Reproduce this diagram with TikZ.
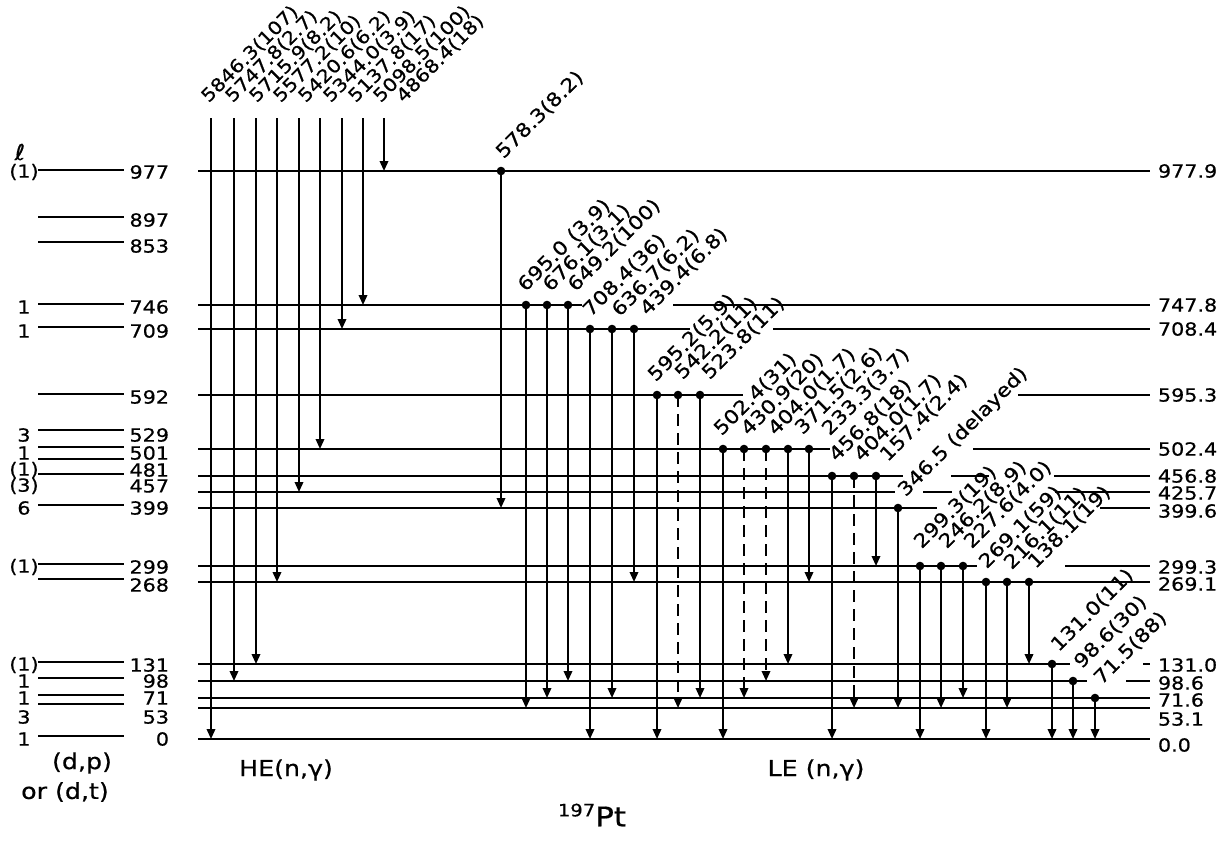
\documentclass[tikz,border=0pt]{standalone}
\usepackage{fontspec}
\setmainfont{DejaVu Sans}[FakeStretch=1.15, FakeBold=0.6]
\usetikzlibrary{arrows.meta}

\begin{document}
\begin{tikzpicture}[x=1pt, y=-1pt, line width=1.9pt,
  gam/.style={-{Triangle[width=8.5pt,length=10pt]}},
  weak/.style={gam, dash pattern=on 12pt off 7pt},
  lbl/.style={rotate=45, anchor=base west, inner sep=0pt, font=\fontsize{19}{23}\selectfont},
  helbl/.style={lbl, font=\fontsize{18}{22}\selectfont},
  txt/.style={inner sep=0pt, font=\fontsize{18}{22}\selectfont},
  captxt/.style={inner sep=0pt, font=\fontsize{22}{26}\selectfont}]
  \path[use as bounding box] (0,0) rectangle (1222,844);

  % ── (d,p) / (d,t) column: lines, energies, l values ──
  \foreach \yy in {170,217,242,304,327,394,430,447,459,474,505,564,579,662,678,695,704,736}
    \draw (38,\yy) -- (124,\yy);
  \foreach \ee/\yy/\ll in {977/172/(1), 897/220/, 853/246/, 746/307/1, 709/331/1, 592/397/,
      529/435/3, 501/453/1, 481/470/(1), 457/486/(3), 399/508/6, 299/567/(1), 268/585/,
      131/665/(1), 98/681/1, 71/698/1, 53/717/3, 0/739/1} {
    \node[txt, anchor=east] (dp\ee) at (170,\yy) {\ee};
    \node[txt] (l\ee) at (24,\yy) {\ll};
  }
  \node[captxt] (ell) at (20,152) {ℓ};
  \node[captxt] (dplab) at (82,763) {(d,p)};
  \node[captxt] (dtlab) at (65,792) {or (d,t)};

  % ── 197Pt levels (segments leave room for the slanted labels) ──
  \foreach \yy/\xa/\xb in {171/198/1150, 305/198/582, 305/673/1150, 329/198/690, 329/773/1150,
      395/198/743, 395/1018/1150, 449/198/830, 449/973/1150,
      476/198/903, 476/951/989, 476/1054/1150, 492/198/895, 492/923/952, 492/1055/1150,
      508/198/937, 508/1100/1150, 566/198/977, 566/1065/1150, 582/198/1150,
      664/198/1070, 664/1143/1150, 681/198/1087, 681/1126/1150,
      698/198/1150, 708/198/1150, 739/198/1150}
    \draw (\xa,\yy) -- (\xb,\yy);
  \foreach \ee/\yy in {977.9/171, 747.8/305, 708.4/329, 595.3/395, 502.4/449, 456.8/476,
      425.7/493, 399.6/511, 299.3/567, 269.1/584, 131.0/665, 98.6/683, 71.6/700, 53.1/719, 0.0/745}
    \node[txt, anchor=west] (e\ee) at (1157,\yy) {\ee};

  % ── HE(n,γ): primary transitions from the capture state ──
  \foreach \xx/\yt/\lx/\lab in {211/739/208/5846.3(107), 234/681/232/5747.8(2.7),
      256/664/256/5715.9(8.2), 277/582/280/5577.2(10), 299/492/305/5420.6(6.2),
      320/449/330/5344.0(3.9), 342/329/355/5137.8(17), 363/305/380/5098.5(100),
      384/171/403/4868.4(18)} {
    \draw[gam] (\xx,118) -- (\xx,\yt);
    \node[helbl] (he\xx) at (\lx,104) {\lab};
  }

  % ── LE(n,γ): secondary transitions, dot on the initial level ──
  \foreach \xx/\yf/\yt/\st/\lx/\ly/\lab in {
      501/171/508/gam/503/160/578.3(8.2),
      526/305/708/gam/525/293/695.0 (3.9), 547/305/698/gam/550/293/676.1(3.1),
      568/305/681/gam/575/293/649.2(100),
      590/329/739/gam/590/318/708.4(36), 612/329/698/gam/619/318/636.7(6.2),
      634/329/582/gam/647/317/439.4(6.8),
      657/395/739/gam/655/383/595.2(5.9), 678/395/708/weak/682/381/542.2(11),
      700/395/698/gam/709/381/523.8(11),
      723/449/739/gam/721/437/502.4(31), 744/449/698/weak/748/437/430.9(20),
      766/449/681/weak/775/437/404.0(1.7), 788/449/664/gam/802/436/371.5(2.6),
      809/449/582/gam/829/437/233.3(3.7),
      832/476/739/gam/836/463/456.8(18), 854/476/708/weak/861/463/404.0(1.7),
      876/476/566/gam/887/463/157.4(2.4),
      898/508/708/gam/905/498/346.5 (delayed),
      920/566/739/gam/921/550/299.3(19), 941/566/708/gam/946/550/246.2(8.9),
      963/566/698/gam/971/550/227.6(4.0),
      986/582/739/gam/986/570/269.1(59), 1007/582/708/gam/1011/571/216.1(11),
      1029/582/664/gam/1035/570/138.1(19),
      1052/664/739/gam/1058/653/131.0(11), 1073/681/739/gam/1081/670/98.6(30),
      1095/698/739/gam/1101/686/71.5(88)} {
    \fill (\xx,\yf) circle (4.3);
    \draw[\st] (\xx,\yf) -- (\xx,\yt);
    \node[lbl] (le\xx) at (\lx,\ly) {\lab};
  }

  % ── captions ──
  \node[captxt] (he) at (286,770) {HE(n,γ)};
  \node[captxt] (le) at (816,770) {LE (n,γ)};
  \node[captxt] (nuc) at (592,815) {\fontsize{17}{20}\selectfont\raisebox{10pt}{197}\fontsize{27}{30}\selectfont Pt};
\end{tikzpicture}
\end{document}
